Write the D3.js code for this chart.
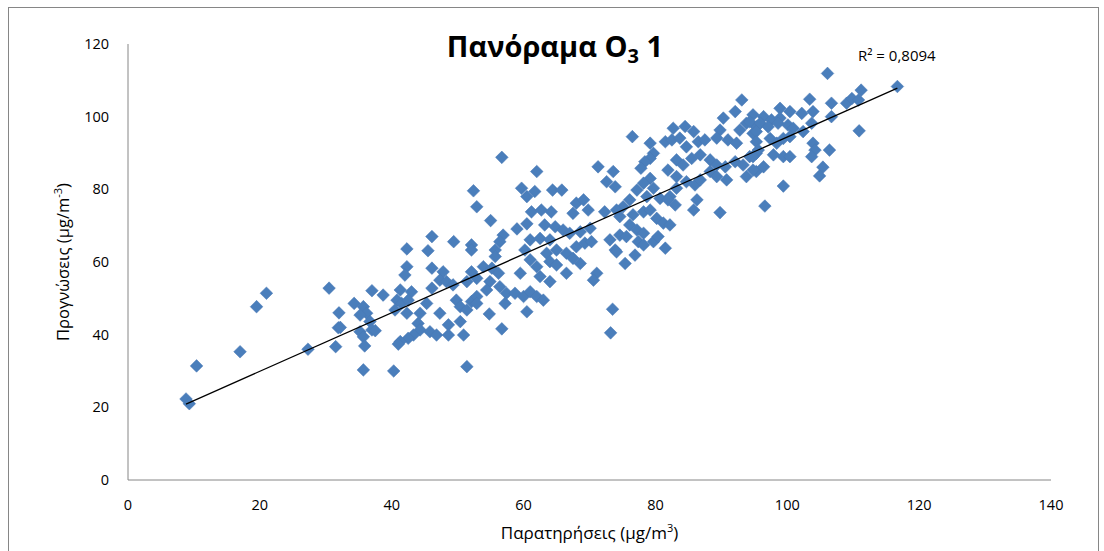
<!DOCTYPE html>
<html>

<head>
  <style>
    body {
      margin: 0;
      background: #fff;
    }

    svg text {
      font-family: "Open Sans", "Noto Sans", sans-serif;
    }
  </style>
</head>

<body>
  <svg width="1104" height="551"></svg>
  <script src="https://cdn.jsdelivr.net/npm/d3@7"></script>
  <script>

    const observed = [
      8.8, 9.3, 10.4, 17.0, 19.5, 21.0, 27.3, 30.5, 32.0, 31.9, 31.5,
      52.9, 46.1, 49.4, 52.1, 52.1, 42.3, 45.5, 42.3, 42.0, 46.1, 47.8, 47.3, 48.3, 49.3, 52.1, 52.9, 51.4,
      37.0, 38.7, 41.3, 43.0, 46.1, 34.3, 35.7, 36.2, 35.2, 40.8, 41.5, 42.5, 40.5, 42.3, 45.3, 44.3, 47.3,
      49.8, 50.4, 51.4, 52.1, 52.9, 32.2, 36.7, 37.0, 35.2, 35.7, 35.9, 37.5, 44.0, 44.3, 45.8, 46.8, 43.3,
      42.5, 41.3, 41.0, 48.6, 48.6, 50.4, 50.9, 35.7, 40.3, 51.4,
      56.7, 62.0, 71.3, 73.6, 72.6, 73.9, 52.4, 59.7, 60.5, 61.7, 64.4, 65.8, 68.0, 69.1, 69.8, 67.5, 61.2,
      62.7, 64.2, 72.3, 55.0, 59.0, 60.5, 63.2, 64.8, 66.0, 67.0, 68.6, 70.1, 56.9, 56.4, 55.7, 55.7, 61.0,
      62.5, 64.0, 60.2, 63.5, 65.0, 66.5, 68.0, 69.3, 70.3, 73.1, 73.9, 61.0, 62.0, 64.0, 65.0, 67.5, 68.6,
      53.9, 55.2, 56.2, 59.5, 62.5, 64.0, 66.5, 71.1, 70.6, 54.9, 54.4, 56.4, 57.4, 58.7, 60.0, 61.0, 62.0,
      63.0, 52.9, 57.2, 60.5, 54.8, 56.7, 73.5, 73.2,
      93.1, 92.1, 90.3, 76.5, 79.2, 82.7, 84.5, 85.8, 81.5, 82.5, 83.7, 84.7, 86.5, 87.5, 89.8, 89.3, 91.0,
      92.3, 94.8, 95.3, 93.8, 92.8, 79.7, 79.2, 78.4, 77.8, 81.9, 83.2, 84.2, 85.5, 86.8, 88.3, 89.3, 90.6,
      92.1, 93.3, 94.3, 95.3, 93.8, 95.3, 79.2, 78.2, 77.2, 79.7, 78.7, 83.2, 84.7, 86.0, 86.8, 88.3, 89.3,
      90.8, 76.1, 75.1, 80.7, 82.2, 83.2, 74.1, 74.6, 76.6, 78.2, 79.2, 81.9, 83.0, 86.3, 85.8, 89.8, 76.1,
      77.2, 78.2, 80.2, 81.2, 82.2, 74.6, 75.6, 74.1, 77.4, 78.2, 79.7, 80.4, 81.5, 76.9, 75.4,
      106.1, 103.4, 106.7, 109.0, 98.9, 100.4, 102.2, 103.9, 94.8, 96.4, 97.6, 98.9, 94.3, 95.9, 97.1, 98.6,
      100.1, 100.9, 102.4, 103.7, 106.7, 95.3, 97.4, 98.4, 99.4, 100.4, 95.3, 95.6, 94.8, 97.9, 99.4, 100.4,
      103.9, 104.2, 103.7, 106.4, 96.4, 94.8, 105.4, 104.9, 99.4, 96.6,
      116.7, 111.2, 109.8, 110.8, 110.9
    ];

    const predicted = [
      22.3, 21.0, 31.4, 35.3, 47.7, 51.4, 36.0, 52.8, 46.0, 41.9, 36.7,
      75.2, 67.0, 65.6, 64.7, 63.3, 63.6, 63.1, 58.7, 56.4, 58.3, 57.3, 55.0, 54.6, 53.7, 57.3, 55.5, 54.6,
      52.1, 50.9, 52.3, 51.8, 52.8, 48.6, 47.7, 45.9, 45.4, 49.5, 48.6, 49.5, 46.8, 45.9, 48.6, 45.9, 45.9,
      49.5, 47.7, 46.8, 49.1, 50.5, 42.0, 43.6, 41.3, 40.8, 39.4, 36.9, 41.1, 43.1, 41.3, 40.8, 39.9, 39.9,
      39.0, 38.1, 37.4, 42.7, 39.9, 43.6, 39.9, 30.3, 30.0, 31.2,
      88.8, 84.9, 86.2, 84.9, 82.1, 80.7, 79.6, 80.3, 78.0, 79.4, 79.8, 79.8, 76.2, 77.1, 74.3, 73.4, 73.8,
      74.3, 73.8, 73.8, 71.4, 69.1, 70.5, 70.2, 69.7, 68.8, 67.9, 68.3, 69.3, 67.4, 65.6, 63.3, 61.5, 66.1,
      66.5, 66.1, 63.3, 62.4, 63.3, 62.4, 64.2, 65.2, 65.6, 66.1, 63.3, 60.6, 58.7, 60.1, 59.2, 61.0, 59.6,
      58.7, 58.3, 56.9, 56.9, 56.0, 54.6, 56.9, 56.9, 55.0, 54.6, 52.3, 53.2, 51.4, 51.4, 50.5, 51.8, 50.5,
      49.5, 48.6, 48.6, 46.3, 45.7, 41.6, 47.0, 40.5,
      104.6, 101.4, 99.6, 94.5, 92.7, 96.8, 97.3, 95.9, 93.1, 93.6, 94.1, 91.7, 93.1, 93.6, 96.3, 94.1, 93.6,
      92.7, 95.4, 97.2, 98.2, 96.3, 89.9, 88.5, 87.6, 85.8, 85.3, 88.1, 86.7, 88.5, 89.5, 88.1, 86.7, 86.2,
      87.6, 86.7, 89.0, 89.9, 83.5, 84.9, 83.0, 81.7, 79.8, 80.3, 78.0, 83.5, 82.1, 81.2, 82.6, 84.9, 83.5,
      82.6, 77.1, 75.2, 77.5, 78.0, 80.3, 74.3, 72.5, 73.0, 73.8, 74.3, 77.1, 75.7, 77.1, 74.3, 73.6, 70.2,
      68.8, 67.9, 72.0, 70.7, 70.2, 67.4, 67.0, 62.8, 65.6, 64.7, 65.6, 67.0, 63.8, 61.9, 59.6,
      111.9, 104.8, 103.7, 103.7, 102.3, 101.4, 100.9, 101.4, 100.5, 100.0, 99.1, 99.6, 98.6, 98.2, 97.2, 98.2,
      97.7, 96.8, 95.9, 98.2, 100.0, 95.9, 94.0, 92.7, 94.0, 94.5, 93.1, 90.8, 89.0, 89.5, 89.0, 89.0,
      92.7, 90.8, 89.0, 90.8, 86.2, 85.3, 86.1, 83.7, 80.9, 75.4,
      108.3, 107.3, 105.0, 104.6, 96.1
    ];

    const xTicks = [0, 20, 40, 60, 80, 100, 120, 140];
    const yTicks = [0, 20, 40, 60, 80, 100, 120];

    // linear trendline as shown on the chart
    const trendSlope = 0.806;
    const trendIntercept = 13.8;
    const rSquaredLabel = "R² = 0,8094";

    const width = 1104;
    const height = 551;

    const svg = d3.select("svg")
      .attr("viewBox", [0, 0, width, height]);

    const x = d3.scaleLinear()
      .domain([0, 140])
      .range([128, 1051]);

    const y = d3.scaleLinear()
      .domain([0, 120])
      .range([480, 44]);

    // chart frame
    svg.append("rect")
      .attr("x", 8.5)
      .attr("y", 7.5)
      .attr("width", 1090)
      .attr("height", 600)
      .attr("fill", "none")
      .attr("stroke", "#868686")
      .attr("stroke-width", 1);

    // axis lines
    svg.append("line")
      .attr("x1", x(0)).attr("x2", x(0))
      .attr("y1", y(120)).attr("y2", y(0))
      .attr("stroke", "#868686");
    svg.append("line")
      .attr("x1", x(0)).attr("x2", x(140))
      .attr("y1", y(0)).attr("y2", y(0))
      .attr("stroke", "#868686");

    const ticks = svg.append("g")
      .attr("font-size", "14.5px")
      .attr("fill", "#000");

    ticks.selectAll(".ytick")
      .data(yTicks)
      .enter()
      .append("text")
      .attr("class", "ytick")
      .attr("x", 109)
      .attr("y", d => y(d))
      .attr("dy", "0.35em")
      .attr("text-anchor", "end")
      .text(d => d);

    ticks.selectAll(".xtick")
      .data(xTicks)
      .enter()
      .append("text")
      .attr("class", "xtick")
      .attr("x", d => x(d))
      .attr("y", 510)
      .attr("text-anchor", "middle")
      .text(d => d);

    // points
    const points = observed.map((d, i) => ({ obs: d, pred: predicted[i] }));

    svg.append("g")
      .selectAll("path")
      .data(points)
      .enter()
      .append("path")
      .attr("d", d3.symbol(d3.symbolSquare, 80))
      .attr("transform", d => `translate(${x(d.obs)}, ${y(d.pred)}) rotate(45)`)
      .attr("fill", "#4a7ebb")
      .attr("stroke", "#4878b4")
      .attr("stroke-width", 0.5);

    // trendline from the smallest to the largest observation
    const [xMin, xMax] = d3.extent(observed);
    svg.append("line")
      .attr("x1", x(xMin))
      .attr("y1", y(trendIntercept + trendSlope * xMin))
      .attr("x2", x(xMax))
      .attr("y2", y(trendIntercept + trendSlope * xMax))
      .attr("stroke", "#000")
      .attr("stroke-width", 1.3);

    svg.append("text")
      .attr("x", 858)
      .attr("y", 61)
      .attr("font-size", "15px")
      .text(rSquaredLabel);

    // title
    const title = svg.append("text")
      .attr("x", 555)
      .attr("y", 57)
      .attr("text-anchor", "middle")
      .attr("font-size", "29px")
      .attr("font-weight", "bold");
    title.append("tspan").text("Πανόραμα O");
    title.append("tspan").attr("font-size", "20px").attr("dy", 6).text("3");
    title.append("tspan").attr("dy", -6).text(" 1");

    // axis titles
    const xTitle = svg.append("text")
      .attr("x", x(70))
      .attr("y", 539)
      .attr("text-anchor", "middle")
      .attr("font-size", "17px");
    xTitle.append("tspan").text("Παρατηρήσεις (μg/m");
    xTitle.append("tspan").attr("font-size", "11px").attr("dy", -7).text("3");
    xTitle.append("tspan").attr("dy", 7).text(")");

    const yTitle = svg.append("text")
      .attr("transform", `translate(69, ${y(60)}) rotate(-90)`)
      .attr("text-anchor", "middle")
      .attr("font-size", "16.5px");
    yTitle.append("tspan").text("Προγνώσεις (μg/m");
    yTitle.append("tspan").attr("font-size", "11px").attr("dy", -7).text("-3");
    yTitle.append("tspan").attr("dy", 7).text(")");

  </script>
</body>

</html>
